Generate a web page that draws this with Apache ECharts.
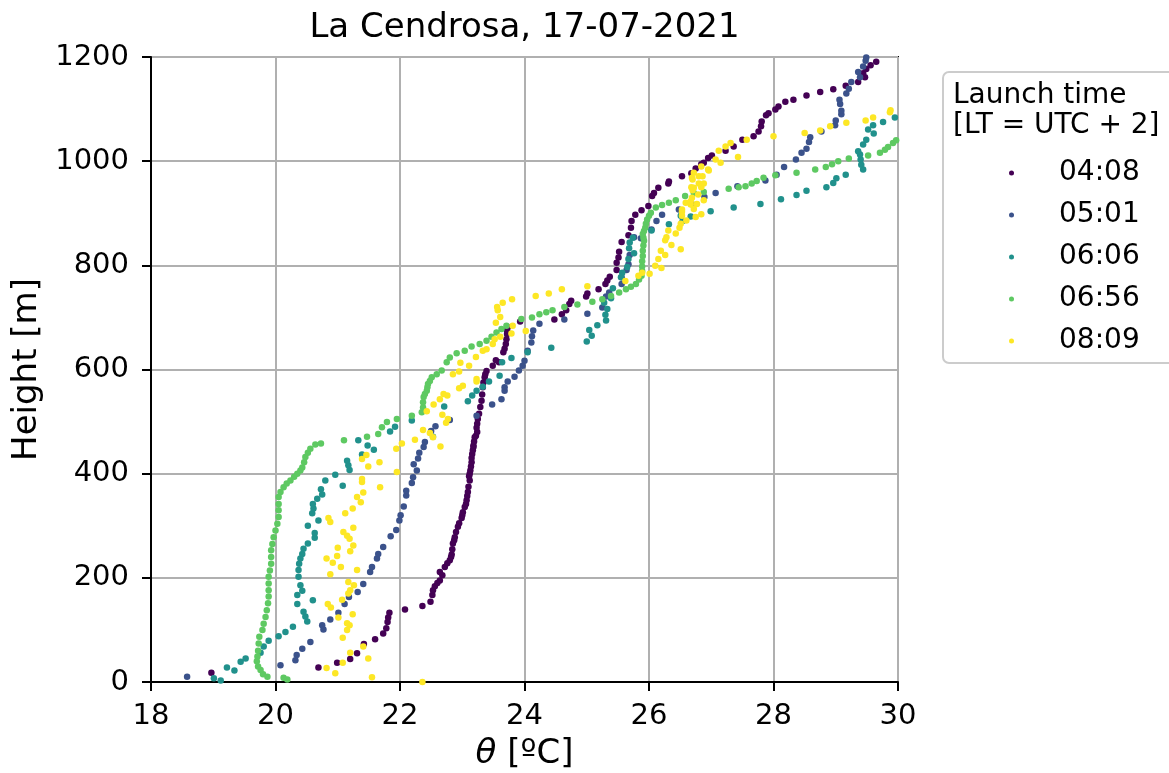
<!DOCTYPE html>
<html>
<head>
<meta charset="utf-8">
<script src="https://cdn.jsdelivr.net/npm/echarts@6/dist/echarts.min.js"></script>
<style>
html,body{margin:0;padding:0;background:#fff;}
#chart{width:1169px;height:773px;}
</style>
</head>
<body>
<div id="chart"></div>
<script>
// ---- DATA: [theta (ºC), height (m)] ----
const launchTimes = ['04:08', '05:01', '06:06', '06:56', '08:09'];
const colors = ['#440154', '#3b528b', '#21918c', '#5ec962', '#fde725'];
const xTicks = [18, 20, 22, 24, 26, 28, 30];
const yTicks = [0, 200, 400, 600, 800, 1000, 1200];

const s0408 = [[18.97,18],[20.69,28],[20.99,37],[21.2,44],[21.31,55],[21.42,73],[21.6,82],[21.73,93],[21.78,103],[21.8,115],[21.81,124],[21.83,133],[22.08,139],[22.36,146],[22.49,154],[22.52,167],[22.53,176],[22.56,184],[22.6,190],[22.64,195],[22.68,205],[22.64,211],[22.72,221],[22.76,228],[22.8,234],[22.82,240],[22.83,245],[22.84,255],[22.85,266],[22.87,272],[22.88,278],[22.9,288],[22.93,298],[22.95,305],[22.99,315],[23.0,320],[23.01,326],[23.04,336],[23.06,342],[23.07,349],[23.08,357],[23.09,365],[23.1,375],[23.12,387],[23.11,395],[23.12,400],[23.13,406],[23.14,414],[23.15,422],[23.15,430],[23.16,438],[23.17,445],[23.18,451],[23.18,454],[23.19,462],[23.2,470],[23.22,473],[23.24,480],[23.23,488],[23.24,496],[23.25,505],[23.27,515],[23.29,528],[23.31,540],[23.32,552],[23.33,566],[23.34,575],[23.36,585],[23.37,591],[23.39,597],[23.49,607],[23.59,614],[23.54,618],[23.66,633],[23.68,640],[23.7,649],[23.71,658],[23.72,668],[23.72,675],[23.73,681],[23.93,692],[24.48,696],[24.6,706],[24.67,714],[24.72,726],[24.75,732],[24.99,740],[25.01,746],[25.19,754],[25.3,764],[25.33,771],[25.37,778],[25.48,791],[25.48,805],[25.51,815],[25.52,826],[25.56,845],[25.67,858],[25.71,872],[25.72,885],[25.78,897],[25.88,906],[25.99,914],[26.05,933],[26.08,939],[26.15,949],[26.31,957],[26.32,961],[26.53,971],[26.68,977],[26.75,986],[26.84,994],[26.88,997],[26.95,1006],[27.01,1011],[27.23,1020],[27.36,1028],[27.5,1041],[27.68,1048],[27.76,1057],[27.8,1067],[27.81,1076],[27.88,1088],[27.92,1092],[28.03,1099],[28.08,1105],[28.19,1114],[28.32,1118],[28.53,1126],[28.75,1133],[28.96,1138],[29.16,1145],[29.36,1152],[29.47,1161],[29.44,1169],[29.49,1177],[29.56,1184],[29.65,1191]];

const s0501 = [[18.58,10],[20.08,32],[20.32,42],[20.34,52],[20.43,64],[20.56,77],[20.77,101],[20.75,109],[20.88,120],[21.01,133],[21.11,150],[21.18,163],[21.32,173],[21.41,188],[21.52,211],[21.55,221],[21.63,237],[21.65,246],[21.73,259],[21.85,280],[21.94,292],[21.99,310],[22.01,320],[22.06,337],[22.1,358],[22.1,367],[22.19,382],[22.21,393],[22.27,406],[22.22,418],[22.29,429],[22.31,440],[22.38,451],[22.4,461],[22.5,482],[22.57,491],[22.8,503],[23.23,511],[23.48,533],[23.63,543],[23.68,559],[23.68,566],[23.73,577],[23.84,586],[23.91,598],[23.97,607],[24.0,617],[24.05,636],[24.11,652],[24.12,664],[24.14,675],[24.24,688],[24.64,696],[25.01,707],[25.25,719],[25.31,740],[25.36,748],[25.56,764],[25.56,777],[25.64,791],[25.67,802],[25.69,820],[25.76,854],[25.87,852],[26.04,869],[26.12,885],[26.21,897],[26.48,907],[26.7,917],[26.89,931],[27.07,939],[27.42,952],[27.87,963],[28.05,974],[28.17,989],[28.36,1003],[28.45,1016],[28.53,1024],[28.57,1037],[28.59,1046],[28.77,1057],[28.99,1069],[29.0,1078],[29.09,1090],[29.09,1097],[29.07,1110],[29.06,1118],[29.17,1130],[29.21,1139],[29.25,1152],[29.39,1161],[29.36,1171],[29.44,1182],[29.48,1193],[29.49,1199]];

const s0606 = [[19.01,7],[19.12,3],[19.22,28],[19.34,22],[19.44,39],[19.52,45],[19.76,56],[19.81,68],[19.89,79],[20.05,88],[20.16,96],[20.28,106],[20.51,116],[20.48,126],[20.45,135],[20.35,150],[20.6,157],[20.35,167],[20.43,175],[20.4,186],[20.37,202],[20.37,215],[20.38,227],[20.4,237],[20.43,246],[20.45,256],[20.52,266],[20.63,277],[20.63,286],[20.52,300],[20.69,310],[20.59,324],[20.61,333],[20.6,342],[20.67,352],[20.75,360],[20.73,370],[21.08,377],[20.8,387],[20.96,398],[21.19,407],[21.17,416],[21.15,425],[21.39,437],[21.58,446],[21.48,454],[21.33,464],[22.53,471],[21.84,481],[21.92,490],[22.19,502],[22.71,529],[23.09,539],[23.16,550],[23.23,559],[23.33,567],[23.43,577],[23.6,588],[23.64,614],[23.79,622],[24.05,633],[24.43,642],[25.0,654],[25.08,665],[25.04,676],[25.17,685],[25.31,694],[25.3,705],[25.33,716],[25.28,728],[25.39,737],[25.42,756],[25.55,777],[25.57,786],[25.65,797],[25.67,812],[25.76,823],[25.68,833],[25.69,844],[25.74,853],[26.04,867],[26.32,879],[26.54,885],[26.67,894],[26.51,895],[26.99,904],[27.36,911],[27.79,918],[28.12,927],[28.37,935],[28.53,943],[28.85,950],[28.96,958],[29.01,967],[29.16,974],[29.44,984],[29.41,993],[29.4,1003],[29.39,1013],[29.36,1019],[29.44,1032],[29.49,1041],[29.61,1053],[29.52,1061],[29.6,1069],[29.76,1075],[29.95,1084]];

const s0656 = [[20.13,8],[20.19,5],[19.87,10],[19.8,15],[19.76,23],[19.72,30],[19.7,40],[19.71,49],[19.72,60],[19.73,74],[19.74,87],[19.79,100],[19.81,112],[19.84,125],[19.86,138],[19.88,151],[19.89,164],[19.89,176],[19.89,189],[19.89,202],[19.91,214],[19.93,227],[19.93,240],[19.93,253],[19.95,265],[19.97,278],[20.0,291],[20.03,304],[20.05,317],[20.05,330],[20.05,342],[20.05,355],[20.08,365],[20.13,374],[20.18,381],[20.24,387],[20.3,394],[20.35,400],[20.4,406],[20.43,412],[20.46,422],[20.48,432],[20.52,440],[20.56,448],[20.64,456],[20.73,458],[21.1,464],[21.47,471],[21.65,476],[21.71,489],[21.79,499],[21.95,505],[22.19,511],[22.35,518],[22.37,527],[22.37,537],[22.38,547],[22.4,553],[22.43,559],[22.44,566],[22.45,572],[22.48,578],[22.51,585],[22.59,591],[22.67,598],[22.75,614],[22.8,623],[22.91,631],[23.04,636],[23.15,644],[23.28,649],[23.39,655],[23.47,663],[23.55,671],[23.63,678],[23.71,684],[23.95,697],[24.12,700],[24.24,706],[24.35,710],[24.45,714],[24.64,720],[24.85,725],[25.09,730],[25.25,735],[25.39,741],[25.52,748],[25.63,754],[25.71,759],[25.79,764],[25.84,773],[25.88,780],[25.89,789],[25.89,798],[25.89,808],[25.9,818],[25.9,828],[25.91,838],[25.92,847],[25.91,853],[25.9,860],[25.92,866],[25.94,872],[25.95,880],[25.97,888],[26.0,895],[26.03,901],[26.11,911],[26.21,916],[26.32,920],[26.43,925],[26.58,933],[26.72,939],[26.88,941],[27.28,947],[27.44,950],[27.55,952],[27.65,957],[27.73,962],[27.84,968],[28.03,973],[28.37,978],[28.67,984],[28.84,989],[28.94,994],[29.04,1000],[29.21,1005],[29.52,1011],[29.71,1016],[29.79,1022],[29.84,1027],[29.92,1035],[29.97,1040]];

const s0809 = [[22.36,0],[21.55,9],[20.96,17],[20.82,27],[21.08,37],[21.49,45],[21.2,56],[21.41,68],[21.08,85],[21.15,100],[21.19,109],[21.15,113],[21.01,124],[21.24,130],[20.89,143],[20.84,150],[21.07,158],[21.17,170],[21.2,176],[21.26,186],[21.17,192],[20.88,207],[21.31,215],[21.05,221],[20.92,229],[20.82,237],[20.99,242],[21.2,251],[21.0,258],[21.25,262],[21.19,275],[21.15,281],[21.09,288],[21.25,296],[20.88,307],[20.85,315],[21.12,324],[21.24,333],[21.37,345],[21.31,355],[21.41,364],[21.68,374],[21.39,384],[21.39,390],[21.95,403],[21.49,414],[21.67,422],[21.39,428],[21.46,436],[21.94,448],[22.65,452],[22.03,458],[22.24,465],[22.53,470],[22.48,478],[22.37,484],[22.74,498],[22.77,505],[22.68,513],[22.43,520],[22.54,533],[22.64,543],[22.76,550],[22.7,553],[22.95,564],[23.01,569],[23.23,577],[23.23,582],[22.85,591],[22.95,596],[23.11,607],[22.97,613],[23.22,624],[23.33,636],[23.39,639],[23.49,649],[23.52,658],[23.61,663],[23.79,669],[24.02,674],[23.81,684],[23.54,690],[23.61,701],[23.57,714],[23.56,720],[23.65,728],[23.8,735],[24.18,741],[24.39,746],[24.6,754],[25.01,760],[25.62,770],[25.83,780],[26.01,784],[25.89,786],[26.2,795],[26.1,799],[26.15,812],[26.26,820],[26.19,828],[26.51,831],[26.36,839],[26.26,848],[26.28,854],[26.43,861],[26.31,867],[26.49,872],[26.51,880],[26.6,886],[26.75,893],[26.53,895],[26.84,898],[26.53,903],[26.53,907],[26.72,908],[26.67,917],[26.77,918],[26.59,920],[26.67,923],[26.88,925],[26.69,930],[26.79,936],[26.7,944],[26.72,949],[26.68,950],[26.84,950],[26.8,957],[26.88,957],[26.7,965],[26.69,968],[26.8,971],[26.86,971],[26.72,978],[26.96,982],[26.95,984],[26.84,990],[27.15,997],[27.07,1003],[27.43,1008],[27.12,1020],[27.23,1028],[27.31,1035],[27.57,1041],[28.0,1048],[28.5,1054],[28.75,1059],[28.91,1067],[29.17,1074],[29.48,1078],[29.6,1084],[29.87,1094],[29.88,1098]];

const seriesData = [s0408, s0501, s0606, s0656, s0809];

// ---- CHART ----
const FONT = '"DejaVu Sans", sans-serif';
const chart = echarts.init(document.getElementById('chart'), null, {renderer: 'canvas'});

const option = {
  animation: false,
  backgroundColor: '#ffffff',
  grid: {
    left: 151, right: 271, top: 57, bottom: 91,
    containLabel: false,
    outerBoundsMode: 'none',
    show: true, borderColor: '#000', borderWidth: 2, backgroundColor: 'transparent'
  },
  xAxis: {
    type: 'value',
    min: xTicks[0], max: xTicks[xTicks.length - 1], interval: 2,
    name: '{i|θ} [ºC]',
    nameLocation: 'middle',
    nameGap: 55,
    nameTextStyle: {
      fontFamily: FONT, fontSize: 34, color: '#000',
      rich: { i: { fontFamily: FONT, fontSize: 34, fontStyle: 'italic', color: '#000' } }
    },
    axisLine: { show: true, onZero: false, lineStyle: { color: '#000', width: 2 } },
    axisTick: { show: true, inside: false, length: 9, lineStyle: { color: '#000', width: 2 } },
    axisLabel: { fontFamily: FONT, fontSize: 29, color: '#000', margin: 20, formatter: v => String(v) },
    splitLine: { show: true, lineStyle: { color: '#b0b0b0', width: 2 } }
  },
  yAxis: {
    type: 'value',
    min: yTicks[0], max: yTicks[yTicks.length - 1], interval: 200,
    name: 'Height [m]',
    nameLocation: 'middle',
    nameGap: 95,
    nameTextStyle: { fontFamily: FONT, fontSize: 34, color: '#000' },
    axisLine: { show: true, onZero: false, lineStyle: { color: '#000', width: 2 } },
    axisTick: { show: true, inside: false, length: 9, lineStyle: { color: '#000', width: 2 } },
    axisLabel: { fontFamily: FONT, fontSize: 29, color: '#000', margin: 22, formatter: v => String(v) },
    splitLine: { show: true, lineStyle: { color: '#b0b0b0', width: 2 } }
  },
  legend: {
    orient: 'vertical',
    left: 1004, top: 154,
    itemWidth: 5, itemHeight: 5, itemGap: 14,
    icon: 'circle',
    data: launchTimes,
    textStyle: { fontFamily: FONT, fontSize: 28, color: '#000', lineHeight: 28, padding: [0, 0, 0, 40] }
  },
  graphic: [
    {
      type: 'rect', z: -1,
      shape: { x: 943, y: 72, width: 280, height: 291, r: 6 },
      style: { fill: '#fff', stroke: '#cccccc', lineWidth: 2 }
    },
    {
      type: 'text', x: 953, y: 96,
      style: { text: 'Launch time', font: '28px ' + FONT, fill: '#000', textAlign: 'left', textVerticalAlign: 'middle' }
    },
    {
      type: 'text', x: 953, y: 126,
      style: { text: '[LT = UTC + 2]', font: '28px ' + FONT, fill: '#000', textAlign: 'left', textVerticalAlign: 'middle' }
    },
    {
      type: 'text', x: 524.5, y: 28,
      style: { text: 'La Cendrosa, 17-07-2021', font: '34px ' + FONT, fill: '#000', textAlign: 'center', textVerticalAlign: 'middle' }
    }
  ],
  series: launchTimes.map((name, i) => ({
    name: name,
    type: 'scatter',
    data: seriesData[i],
    symbol: 'circle',
    symbolSize: 6.5,
    itemStyle: { color: colors[i], opacity: 1 },
    emphasis: { disabled: true }
  }))
};
chart.setOption(option);
</script>
</body>
</html>
